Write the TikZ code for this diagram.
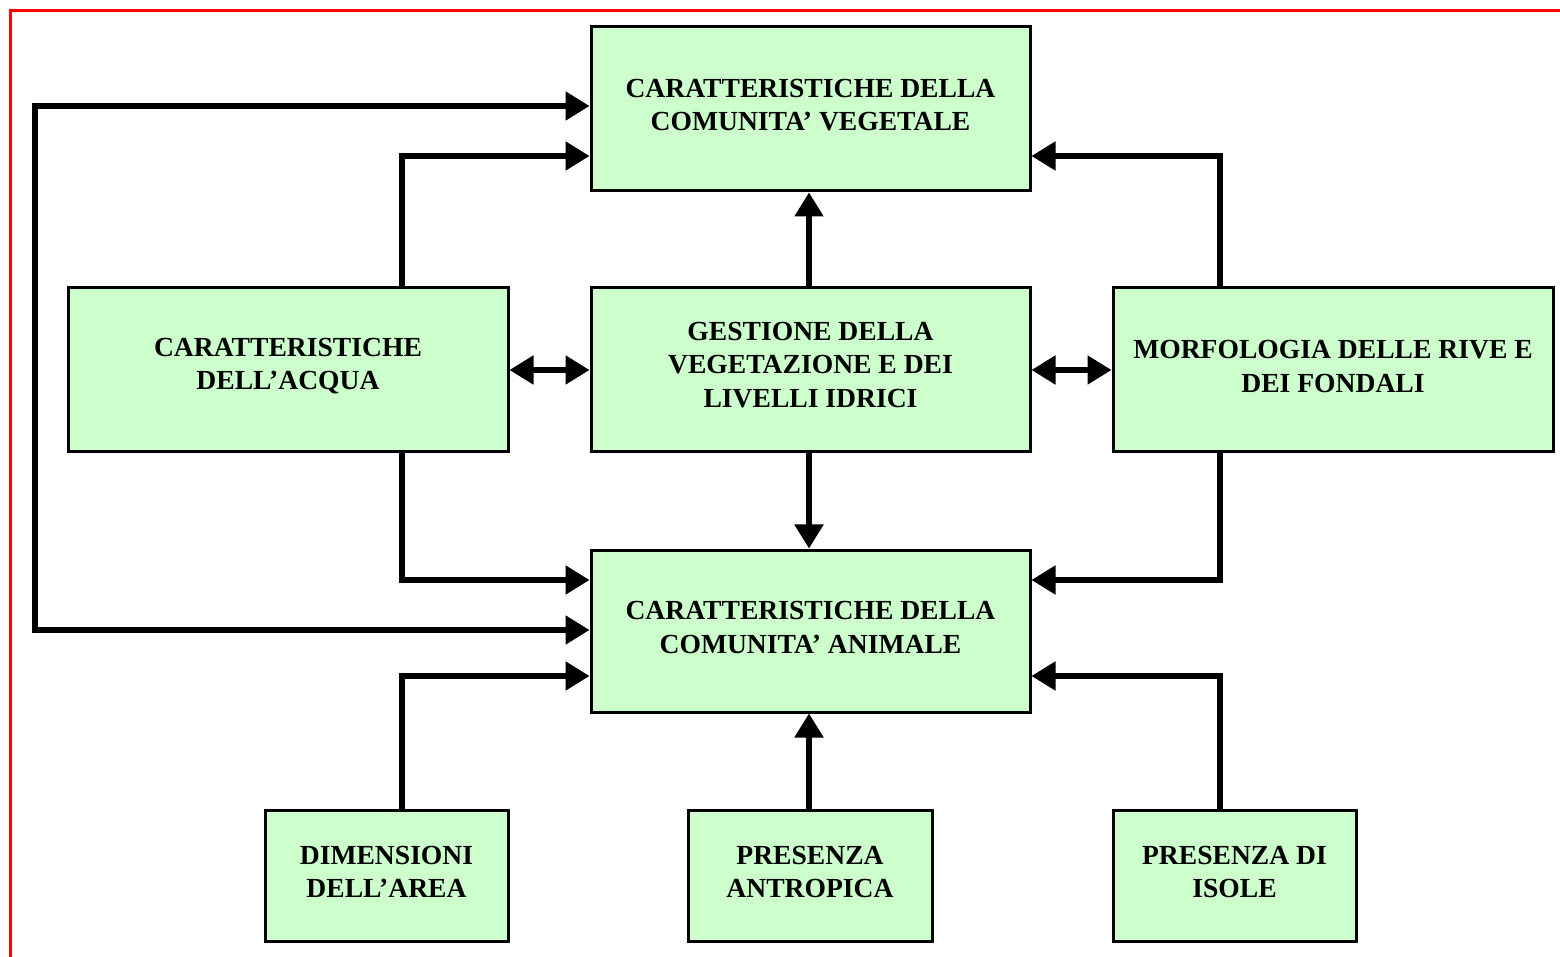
\documentclass[tikz,border=0pt]{standalone}
\usepackage{fontspec}
\setmainfont{Liberation Serif}
\usetikzlibrary{arrows.meta}
\definecolor{boxgreen}{HTML}{CCFFCC}
\begin{document}
\begin{tikzpicture}[x=0.5pt,y=-0.5pt,
  box/.style={draw=black, line width=1.5pt, fill=boxgreen, inner sep=0pt},
  txt/.style={inner sep=0pt, align=center,
    font=\fontsize{13.8pt}{16.6pt}\selectfont\bfseries},
  arr/.style={line width=2.6pt, -{Triangle[length=12pt,width=14pt]}, line join=miter},
  darr/.style={line width=2.6pt, {Triangle[length=12pt,width=14pt]}-{Triangle[length=12pt,width=14pt]}, line join=miter}]
\useasboundingbox (0,0) rectangle (1560,957);
\draw[red, line width=1.5pt] (10,957) -- (10,11) -- (1560,11);

\node[box, minimum width=219.5pt, minimum height=82pt] (veg) at (810.5,109) {};
\node[box, minimum width=220pt, minimum height=82pt] (acqua) at (288,370) {};
\node[box, minimum width=219.5pt, minimum height=82pt] (gest) at (810.5,370) {};
\node[box, minimum width=220pt, minimum height=82pt] (morf) at (1333,370) {};
\node[box, minimum width=219.5pt, minimum height=81pt] (anim) at (810.5,631) {};
\node[box, minimum width=121.5pt, minimum height=65.5pt] (dim) at (386.5,875.5) {};
\node[box, minimum width=122pt, minimum height=65.5pt] (antr) at (810,875.5) {};
\node[box, minimum width=121.5pt, minimum height=65.5pt] (isole) at (1234.5,875.5) {};

\node[txt] (veg-t) at ([yshift=1.8pt]veg.center) {CARATTERISTICHE DELLA\\COMUNITA’ VEGETALE};
\node[txt] (acqua-t) at ([yshift=1.8pt]acqua.center) {CARATTERISTICHE\\DELL’ACQUA};
\node[txt] (gest-t) at ([yshift=2.5pt]gest.center) {GESTIONE DELLA\\VEGETAZIONE E DEI\\LIVELLI IDRICI};
\node[txt] (morf-t) at ([yshift=1.8pt]morf.center) {MORFOLOGIA DELLE RIVE E\\DEI FONDALI};
\node[txt] (anim-t) at ([yshift=1.8pt]anim.center) {CARATTERISTICHE DELLA\\COMUNITA’ ANIMALE};
\node[txt] (dim-t) at ([yshift=1.8pt]dim.center) {DIMENSIONI\\DELL’AREA};
\node[txt] (antr-t) at ([yshift=1.8pt]antr.center) {PRESENZA\\ANTROPICA};
\node[txt] (isole-t) at ([yshift=1.8pt]isole.center) {PRESENZA DI\\ISOLE};

\coordinate (otop) at (35,106);
\coordinate (obot) at (35,630);
\coordinate (lup) at (402,156);
\coordinate (ldn) at (402,580);
\coordinate (ldim) at (402,676);
\coordinate (rup) at (1220,156);
\coordinate (rdn) at (1220,580);
\coordinate (risl) at (1220,676);
\coordinate (mid) at (809,0);

\draw[darr] (veg.west |- otop) -| (obot) -- (anim.west |- obot);
\draw[arr] (acqua.north -| lup) |- (veg.west |- lup);
\draw[arr] (acqua.south -| ldn) |- (anim.west |- ldn);
\draw[arr] (morf.north -| rup) |- (veg.east |- rup);
\draw[arr] (morf.south -| rdn) |- (anim.east |- rdn);
\draw[arr] (gest.north -| mid) -- (veg.south -| mid);
\draw[arr] (gest.south -| mid) -- (anim.north -| mid);
\draw[darr] (acqua.east) -- (gest.west);
\draw[darr] (gest.east) -- (morf.west);
\draw[arr] (dim.north -| ldim) |- (anim.west |- ldim);
\draw[arr] (antr.north -| mid) -- (anim.south -| mid);
\draw[arr] (isole.north -| risl) |- (anim.east |- risl);
\end{tikzpicture}
\end{document}
